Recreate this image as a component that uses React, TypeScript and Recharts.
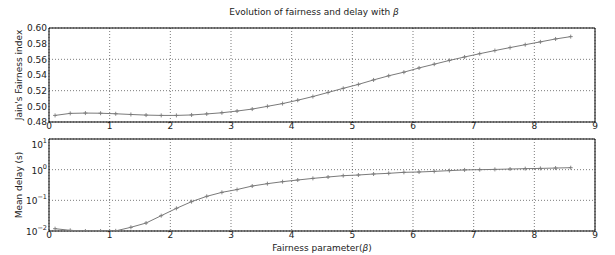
import React from "react";
import { LineChart, Line, XAxis, YAxis, CartesianGrid, ReferenceArea } from "recharts";

// fairness parameter values (x of every marker)
const beta = [
  0.1, 0.35, 0.6, 0.85, 1.1, 1.35, 1.6, 1.85, 2.1, 2.35, 2.6, 2.85, 3.1, 3.35, 3.6, 3.85, 4.1, 4.35,
  4.6, 4.85, 5.1, 5.35, 5.6, 5.85, 6.1, 6.35, 6.6, 6.85, 7.1, 7.35, 7.6, 7.85, 8.1, 8.35, 8.6,
];

// Jain's fairness index
const fairness = [
  0.4884, 0.491, 0.4914, 0.4912, 0.4905, 0.4896, 0.4888, 0.4884, 0.4884, 0.489, 0.4903, 0.4918,
  0.494, 0.4965, 0.5, 0.5035, 0.5078, 0.5125, 0.5177, 0.523, 0.528, 0.5337, 0.539, 0.5436, 0.549,
  0.5538, 0.5586, 0.563, 0.5672, 0.5712, 0.575, 0.5787, 0.5823, 0.586, 0.589,
];

// mean delay in seconds
const delay = [
  0.0119, 0.0105, 0.01, 0.01, 0.0101, 0.0132, 0.0182, 0.0316, 0.0548, 0.0906, 0.135, 0.182, 0.225,
  0.293, 0.349, 0.406, 0.46, 0.52, 0.576, 0.637, 0.67, 0.722, 0.76, 0.818, 0.84, 0.88, 0.93, 0.98,
  1.0, 1.02, 1.05, 1.08, 1.1, 1.13, 1.16,
];

const xTicks = [0, 1, 2, 3, 4, 5, 6, 7, 8, 9];
const fairTicks = [0.48, 0.5, 0.52, 0.54, 0.56, 0.58, 0.6];
const delayTicks = [0.01, 0.1, 1, 10];
const delayMinor = [
  0.02, 0.03, 0.04, 0.05, 0.06, 0.07, 0.08, 0.09, 0.2, 0.3, 0.4, 0.5, 0.6, 0.7, 0.8, 0.9, 2, 3, 4, 5,
  6, 7, 8, 9,
];

const fairData = beta.map((b, i) => ({ beta: b, value: fairness[i] }));
const delayData = beta.map((b, i) => ({ beta: b, value: delay[i] }));

const FONT = "DejaVu Sans, sans-serif";
const TXT = "#222";
const LINE = "#7a7a7a";

const Plus = (props: any) => {
  const { cx, cy, index } = props;
  if (cx == null || cy == null) return <g key={index} />;
  return (
    <path
      key={index}
      d={`M${cx - 2},${cy}h4M${cx},${cy - 2}v4`}
      stroke={LINE}
      strokeWidth={0.9}
      fill="none"
    />
  );
};

const LogTick = (props: any) => {
  const { x, y, payload } = props;
  const exp = Math.round(Math.log10(payload.value));
  const sup = (exp < 0 ? "\u2212" : "") + Math.abs(exp);
  return (
    <text x={x} y={y} dy={4} textAnchor="end" fill={TXT} fontSize={9} fontFamily={FONT}>
      10
      <tspan dy={-5} fontSize={6.5}>
        {sup}
      </tspan>
    </text>
  );
};

const tickStyle = { fill: TXT, fontSize: 9, fontFamily: FONT };

// inward tick marks on all four sides (matplotlib classic look)
function innerTicks(yTicks: number[], yDomain: [number, number], log: boolean, minor?: number[]) {
  const scale = log ? "log" : "auto";
  const out = [
    <XAxis key="xb" xAxisId="xb" type="number" domain={[0, 9]} ticks={xTicks} mirror tick={false}
      axisLine={false} tickSize={4} tickLine={{ stroke: "#000" }} allowDataOverflow />,
    <XAxis key="xt" xAxisId="xt" orientation="top" type="number" domain={[0, 9]} ticks={xTicks} mirror
      tick={false} axisLine={false} tickSize={4} tickLine={{ stroke: "#000" }} allowDataOverflow />,
    <YAxis key="yl" yAxisId="yl" type="number" scale={scale} domain={yDomain} ticks={yTicks} mirror
      tick={false} axisLine={false} tickSize={4} tickLine={{ stroke: "#000" }} allowDataOverflow />,
    <YAxis key="yr" yAxisId="yr" orientation="right" type="number" scale={scale} domain={yDomain}
      ticks={yTicks} mirror tick={false} axisLine={false} tickSize={4} tickLine={{ stroke: "#000" }}
      allowDataOverflow />,
  ];
  if (minor) {
    out.push(
      <YAxis key="ml" yAxisId="ml" type="number" scale={scale} domain={yDomain} ticks={minor} mirror
        tick={false} axisLine={false} tickSize={2} tickLine={{ stroke: "#000" }} allowDataOverflow />,
      <YAxis key="mr" yAxisId="mr" orientation="right" type="number" scale={scale} domain={yDomain}
        ticks={minor} mirror tick={false} axisLine={false} tickSize={2} tickLine={{ stroke: "#000" }}
        allowDataOverflow />
    );
  }
  return out;
}

export default function App() {
  return (
    <div style={{ position: "absolute", left: 0, top: 0, width: 615, height: 255, background: "#fff" }}>
      <div style={{ position: "absolute", left: 0, top: 0 }}>
        <LineChart width={615} height={135} data={fairData} margin={{ top: 28, right: 20, left: 0, bottom: 0 }}>
          <CartesianGrid stroke="#444" strokeDasharray="1 2" strokeWidth={0.7} />
          <XAxis dataKey="beta" type="number" domain={[0, 9]} ticks={xTicks} height={13} tickSize={0}
            tickMargin={1} axisLine={false} tickLine={false} tick={tickStyle} allowDataOverflow />
          <YAxis type="number" domain={[0.48, 0.6]} ticks={fairTicks} width={49} tickSize={0} tickMargin={2}
            axisLine={false} tickLine={false} tick={tickStyle} tickFormatter={(v: number) => v.toFixed(2)}
            allowDataOverflow />
          {innerTicks(fairTicks, [0.48, 0.6], false)}
          <ReferenceArea x1={0} x2={9} y1={0.48} y2={0.6} fill="none" stroke="#000" strokeWidth={1} />
          <Line dataKey="value" type="linear" stroke={LINE} strokeWidth={1} dot={Plus}
            isAnimationActive={false} />
        </LineChart>
      </div>
      <div style={{ position: "absolute", left: 0, top: 135 }}>
        <LineChart width={615} height={120} data={delayData} margin={{ top: 4, right: 20, left: 0, bottom: 0 }}>
          <CartesianGrid stroke="#444" strokeDasharray="1 2" strokeWidth={0.7} />
          <XAxis dataKey="beta" type="number" domain={[0, 9]} ticks={xTicks} height={24} tickSize={0}
            tickMargin={1} axisLine={false} tickLine={false} tick={tickStyle} allowDataOverflow />
          <YAxis type="number" scale="log" domain={[0.01, 10]} ticks={delayTicks} width={49} tickSize={0}
            tickMargin={2} axisLine={false} tickLine={false} tick={<LogTick />} allowDataOverflow />
          {innerTicks(delayTicks, [0.01, 10], true, delayMinor)}
          <ReferenceArea x1={0} x2={9} y1={0.01} y2={10} fill="none" stroke="#000" strokeWidth={1} />
          <Line dataKey="value" type="linear" stroke={LINE} strokeWidth={1} dot={Plus}
            isAnimationActive={false} />
        </LineChart>
      </div>
      <svg width={615} height={255} style={{ position: "absolute", left: 0, top: 0, pointerEvents: "none" }}
        fontFamily={FONT} fill={TXT}>
        <text x={314} y={15} textAnchor="middle" fontSize={9}>
          Evolution of fairness and delay with <tspan fontStyle="italic">β</tspan>
        </text>
        <text x={22} y={75} textAnchor="middle" fontSize={9} transform="rotate(-90 22 75)">
          Jain's Fairness index
        </text>
        <text x={22} y={185} textAnchor="middle" fontSize={9} transform="rotate(-90 22 185)">
          Mean delay (s)
        </text>
        <text x={322} y={251} textAnchor="middle" fontSize={9}>
          Fairness parameter(<tspan fontStyle="italic">β</tspan>)
        </text>
      </svg>
    </div>
  );
}
